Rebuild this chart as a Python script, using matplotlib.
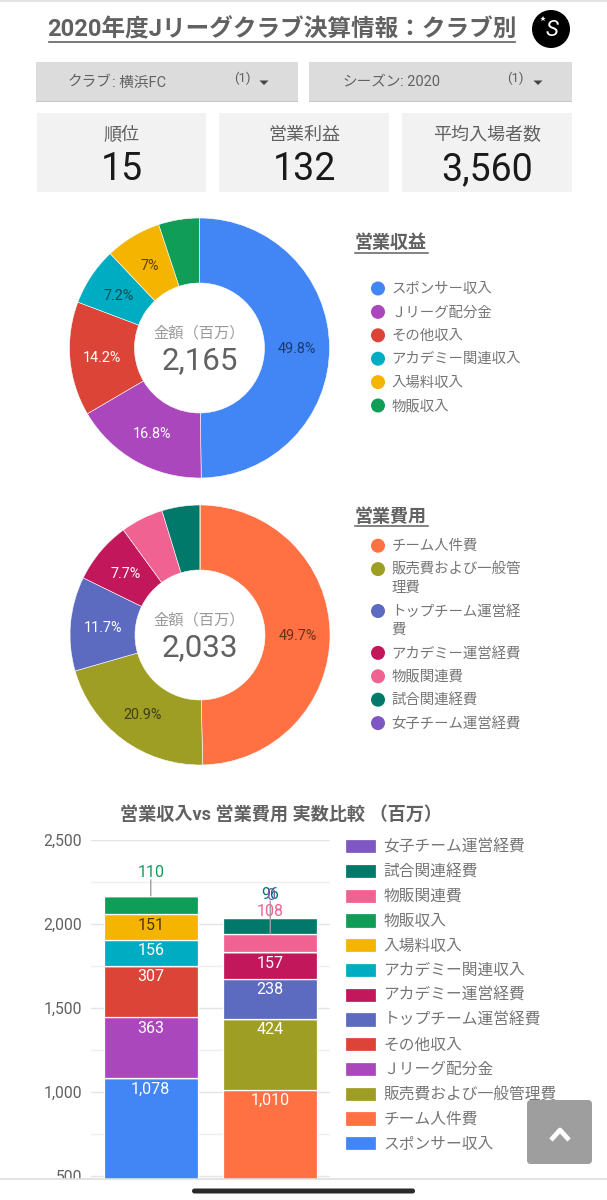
import matplotlib
matplotlib.use('Agg')
import matplotlib.pyplot as plt
from matplotlib.patches import Rectangle, FancyBboxPatch, Circle, Polygon

plt.rcParams['font.family'] = ['Roboto', 'Noto Sans CJK JP', 'DejaVu Sans']

W, H = 607, 1200
GREY = '#616161'
LEGEND_GREY = '#757575'

# data
revenue_names = ['スポンサー収入', 'Ｊリーグ配分金', 'その他収入', 'アカデミー関連収入', '入場料収入', '物販収入']
revenue_values = [1078, 363, 307, 156, 151, 110]
revenue_colors = ['#4285f4', '#ab47bc', '#db4437', '#00acc1', '#f4b400', '#0f9d58']
revenue_total = 2165

cost_names = ['チーム人件費', '販売費および一般管理費', 'トップチーム運営経費', 'アカデミー運営経費',
              '物販関連費', '試合関連経費', '女子チーム運営経費']
cost_values = [1010, 424, 238, 157, 108, 96, 0]
cost_colors = ['#ff7043', '#9e9d24', '#5c6bc0', '#c2185b', '#f06292', '#00796b', '#7e57c2']
cost_total = 2033

cost_legend_labels = ['チーム人件費', '販売費および一般管\n理費', 'トップチーム運営経\n費', 'アカデミー運営経費',
                      '物販関連費', '試合関連経費', '女子チーム運営経費']

# bottom to top in the stacked bars
stack_order = ['スポンサー収入', 'チーム人件費', '販売費および一般管理費', 'Ｊリーグ配分金', 'その他収入',
               'トップチーム運営経費', 'アカデミー運営経費', 'アカデミー関連収入', '入場料収入', '物販収入',
               '物販関連費', '試合関連経費', '女子チーム運営経費']

kpi_names = ['順位', '営業利益', '平均入場者数']
kpi_values = ['15', '132', '3,560']


def px_axes(fig, x0, y0, x1, y1, **kw):
    # axes from pixel box, y measured from the top
    return fig.add_axes([x0 / W, 1 - y1 / H, (x1 - x0) / W, (y1 - y0) / H], **kw)


fig = plt.figure(figsize=(W / 100, H / 100), dpi=100, facecolor='white')


def pct_label(p):
    if p < 6:
        return ''
    return f'{p:.1f}'.removesuffix('.0') + '%'


def donut(cx, cy, values, colors, dark_labels):
    r = 130 * 1.02
    ax = px_axes(fig, cx - r, cy - r, cx + r, cy + r)
    wedges, texts, autotexts = ax.pie(values, colors=colors, startangle=90, counterclock=False,
                                      radius=1.0, autopct=pct_label, pctdistance=0.75,
                                      wedgeprops=dict(width=0.5, edgecolor='white', linewidth=0.4),
                                      textprops=dict(fontsize=10.4))
    for i, t in enumerate(autotexts):
        t.set_color(dark_labels[i] if dark_labels[i] else 'white')
        t.set_verticalalignment('center_baseline')
    ax.set_xlim(-1.02, 1.02)
    ax.set_ylim(-1.02, 1.02)
    return ax


donut(199.5, 348, revenue_values, revenue_colors, ['#1c3a70', None, None, '#0d4a54', '#5c4300', None])
donut(200, 635, cost_values, cost_colors, ['#6b2f1c', '#3f3f10', None, None, None, None, None])

# stacked bars
bar_ax = px_axes(fig, 91, 839.5, 330, 1179)
ymin = 2500 - (1179 - 839.5) * 500 / 84
bar_ax.set_xlim(-0.5, 1.5)
bar_ax.set_ylim(ymin, 2500)
for s in bar_ax.spines.values():
    s.set_visible(False)
bar_ax.set_axisbelow(True)
bar_ax.set_yticks([500, 1000, 1500, 2000, 2500])
bar_ax.set_yticklabels(['500', '1,000', '1,500', '2,000', '2,500'], fontsize=11.3, color=GREY)
bar_ax.set_yticks([750, 1250, 1750, 2250], minor=True)
bar_ax.set_xticks([])
bar_ax.tick_params(axis='y', which='both', length=0, pad=6.5)
bar_ax.grid(axis='y', which='major', color='#e4e4e4', lw=1)
bar_ax.grid(axis='y', which='minor', color='#efefef', lw=1)

rev = dict(zip(revenue_names, revenue_values))
cost = dict(zip(cost_names, cost_values))
col = dict(zip(revenue_names + cost_names, revenue_colors + cost_colors))

bottoms = [0, 0]
handles = {}
for name in stack_order:
    vals = [rev.get(name, 0), cost.get(name, 0)]
    handles[name] = bar_ax.bar([0, 1], vals, width=0.79, bottom=bottoms, color=col[name],
                               edgecolor='white', linewidth=0.9, label=name)
    for i, v in enumerate(vals):
        is_member = name in (rev if i == 0 else cost)
        if not is_member:
            continue
        top = bottoms[i] + v
        if v > 110:
            tc = '#4a3a00' if name == '入場料収入' else 'white'
            bar_ax.annotate(f'{v:,}', (i, top), xytext=(0, -11 * 0.72), textcoords='offset points',
                            ha='center', va='center', fontsize=11.5, color=tc, zorder=6)
        else:
            lift = 23 if v != 0 else 22
            if v == 110:
                bar_ax.annotate('', (i, top), xytext=(0, 16 * 0.72), textcoords='offset points',
                                arrowprops=dict(arrowstyle='-', color='#9e9e9e', lw=1, shrinkA=0, shrinkB=0),
                                zorder=5)
            if v == 108:
                bar_ax.annotate('', (i, top), xytext=(0, 33 * 0.72), textcoords='offset points',
                                arrowprops=dict(arrowstyle='-', color='#9e9e9e', lw=1, shrinkA=0, shrinkB=0),
                                zorder=5)
            bar_ax.annotate(f'{v:,}', (i, top), xytext=(0, lift * 0.72), textcoords='offset points',
                            ha='center', va='center', fontsize=11.5, color=col[name], zorder=6)
    bottoms = [bottoms[0] + vals[0], bottoms[1] + vals[1]]

legend_order = ['女子チーム運営経費', '試合関連経費', '物販関連費', '物販収入', '入場料収入', 'アカデミー関連収入',
                'アカデミー運営経費', 'トップチーム運営経費', 'その他収入', 'Ｊリーグ配分金',
                '販売費および一般管理費', 'チーム人件費', 'スポンサー収入']
fig.legend([handles[n] for n in legend_order], legend_order, loc='upper left',
           bbox_to_anchor=(345 / W, 1 - 839 / H), borderaxespad=0, borderpad=0, frameon=False,
           fontsize=11.3, labelcolor=LEGEND_GREY, handlelength=2.0, handleheight=1.02,
           handletextpad=0.45, labelspacing=0.59)

# page furniture on a pixel overlay
ui = fig.add_axes([0, 0, 1, 1], zorder=10)
ui.set_xlim(0, W)
ui.set_ylim(H, 0)
ui.axis('off')
ui.patch.set_visible(False)

ui.add_patch(Rectangle((0, 0), W, 2, fc='#e4e4e4', ec='none'))

ui.text(282, 30, '2020年度Jリーグクラブ決算情報：クラブ別', ha='center', va='center',
        fontsize=17, fontweight='bold', color=GREY)
ui.plot([49, 515], [41.5, 41.5], color=GREY, lw=1.2)

# logo
ui.add_patch(Circle((551, 29), 19, fc='black', ec='none'))
ui.text(552, 30, 'S', ha='center', va='center', fontsize=16, style='italic', color='white')
ui.plot([543], [19], marker='*', color='white', ms=4, mew=0)

# dropdowns
for x0, x1, lab, val, vx, cx, ax_ in [(36, 298, 'クラブ', ': 横浜FC', 68, 242, 264),
                                     (309, 572, 'シーズン', ': 2020', 342, 515, 538)]:
    ui.add_patch(Rectangle((x0, 63), x1 - x0, 39, fc='#c6c6c6', ec='none'))
    ui.add_patch(Rectangle((x0, 62), x1 - x0, 38.5, fc='#dcdcdc', ec='none'))
    t = ui.text(vx, 82, lab, ha='left', va='center', fontsize=10.5, color=GREY)
    fig.canvas.draw()
    bb = t.get_window_extent()
    ui.text(bb.x1, 82.5, val, ha='left', va='center', fontsize=10.5, color=GREY)
    ui.text(cx, 78, '(1)', ha='center', va='center', fontsize=9.5, color=GREY)
    ui.add_patch(Polygon([(ax_ - 4.5, 80.5), (ax_ + 4.5, 80.5), (ax_, 85)], fc='#444444', ec='none'))

# score cards
for (x0, x1), name, val in zip([(37, 206), (219, 389), (402, 572)], kpi_names, kpi_values):
    ui.add_patch(Rectangle((x0, 113), x1 - x0, 79, fc='#f2f2f2', ec='none'))
    ui.text((x0 + x1) / 2, 135, name, ha='center', va='center', fontsize=13, color=GREY)
    ui.text((x0 + x1) / 2, 170, val, ha='center', va='center', fontsize=27, color='#1a1a1a')


# donut centres
def centre(cx, cy, total):
    ui.text(cx, cy - 15, '金額（百万）', ha='center', va='center', fontsize=11, color='#9a9a9a')
    ui.text(cx, cy + 13, f'{total:,}', ha='center', va='center', fontsize=22.5, color=GREY)


centre(199.5, 348, revenue_total)
centre(199.5, 635, cost_total)


def heading(label, y):
    ui.text(355, y, label, ha='left', va='center', fontsize=13, fontweight='bold', color=GREY)
    ui.plot([355, 428], [y + 9, y + 9], color=GREY, lw=1.1)


def dot_legend(labels, colors, y):
    # wrapped entries take one more line
    for lab, c in zip(labels, colors):
        ui.add_patch(Circle((378, y), 7, fc=c, ec='none'))
        ui.text(391.5, y - 6.5, lab, ha='left', va='top', fontsize=10.4, color=LEGEND_GREY, linespacing=1.38)
        y += 23.4 + 18.5 * lab.count('\n')


heading('営業収益', 243.5)
dot_legend(revenue_names, revenue_colors, 288.5)
heading('営業費用', 516.5)
dot_legend(cost_legend_labels, cost_colors, 545.7)

ui.text(281, 815, '営業収入vs 営業費用 実数比較 （百万）', ha='center', va='center',
        fontsize=13.1, fontweight='bold', color=GREY)

# bottom bar of the phone
ui.add_patch(Rectangle((0, 1179), W, 21, fc='white', ec='none'))
ui.plot([0, W], [1179, 1179], color='#dedede', lw=1.2)
ui.add_patch(FancyBboxPatch((192, 1188.5), 223, 5, boxstyle='round,pad=0,rounding_size=2.5',
                            fc='#2b2b2b', ec='none'))

# back to top button
ui.add_patch(FancyBboxPatch((527, 1100), 65, 64, boxstyle='round,pad=0,rounding_size=4',
                            fc='#9e9e9e', ec='none'))
ui.plot([551, 560, 569], [1140, 1130, 1140], color='white', lw=3.4, solid_capstyle='butt')

fig.savefig('out.png', dpi=100)
